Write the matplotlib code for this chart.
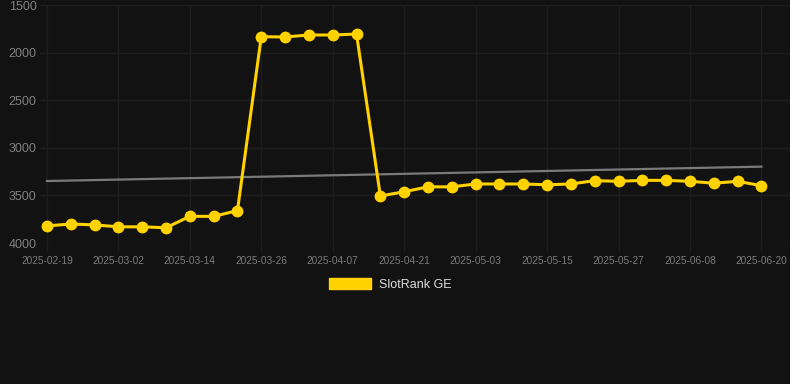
import matplotlib
matplotlib.use("Agg")
import matplotlib.pyplot as plt
from matplotlib.patches import Patch

dates = ["2025-02-19", "2025-02-23", "2025-02-27", "2025-03-02", "2025-03-06", "2025-03-10",
         "2025-03-14", "2025-03-18", "2025-03-22", "2025-03-26", "2025-03-30", "2025-04-03",
         "2025-04-07", "2025-04-11", "2025-04-16", "2025-04-21", "2025-04-25", "2025-04-29",
         "2025-05-03", "2025-05-07", "2025-05-11", "2025-05-15", "2025-05-19", "2025-05-23",
         "2025-05-27", "2025-05-31", "2025-06-04", "2025-06-08", "2025-06-12", "2025-06-16",
         "2025-06-20"]
rank = [3821, 3800, 3810, 3830, 3830, 3840, 3720, 3720, 3660,
        1833, 1836, 1815, 1815, 1805,
        3506, 3462, 3410, 3410, 3380, 3380, 3380, 3388, 3380,
        3345, 3352, 3342, 3342, 3352, 3372, 3352, 3398]
trend_ends = [3349, 3198]
yticks = [1500, 2000, 2500, 3000, 3500, 4000]

bg = "#121212"
grid_c = "#1e1e1e"
fig = plt.figure(figsize=(7.9, 3.84), dpi=100, facecolor=bg)
ax = fig.add_axes([40/790, 1-243/384, 750/790, 238/384])
ax.set_facecolor(bg)

x = list(range(len(rank)))
ax.plot([x[0], x[-1]], trend_ends, color="#7a7a7a", lw=1.6, zorder=2)
ax.plot(x, rank, color="#FFD200", lw=2.2, marker="o", markersize=7.5,
        markerfacecolor="#FFD200", markeredgecolor="#FFD200", zorder=3)

ax.set_ylim(4000, 1500)
ax.set_yticks(yticks)
ax.set_yticklabels([str(v) for v in yticks])
ax.set_xlim(-0.29, 31.2)
tick_idx = list(range(0, len(dates), 3))
ax.set_xticks(tick_idx)
ax.set_xticklabels([dates[i] for i in tick_idx])

for s in ax.spines.values():
    s.set_visible(False)
ax.grid(True, color=grid_c, lw=1)
ax.tick_params(axis="y", length=0, pad=2.5, labelsize=9, labelcolor="#808080")
ax.tick_params(axis="x", length=6, width=1, color=grid_c, pad=3, labelsize=7.3, labelcolor="#7a7a7a")
for lab in ax.get_yticklabels() + ax.get_xticklabels():
    lab.set_fontfamily("Liberation Sans")

leg = fig.legend(handles=[Patch(facecolor="#FFD200", edgecolor="#FFD200", label="SlotRank GE")],
                 loc="center", bbox_to_anchor=(390/790, 1-284.5/384), frameon=False,
                 handlelength=3.4, handleheight=0.95, handletextpad=0.6,
                 prop={"family": "Liberation Sans", "size": 9})
for t in leg.get_texts():
    t.set_color("#dddddd")

fig.savefig("out.png", dpi=100, facecolor=bg)
